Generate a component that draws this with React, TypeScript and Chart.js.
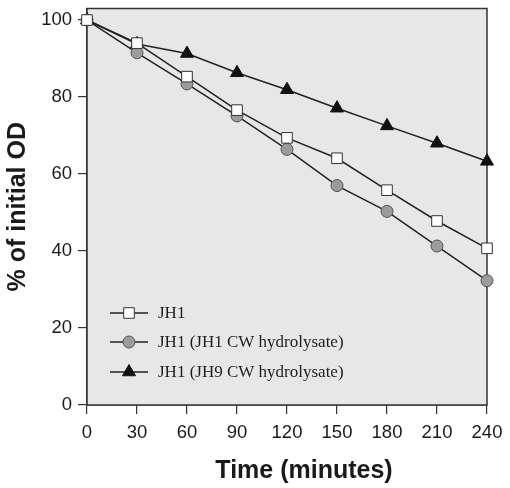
import React, { useEffect, useRef } from "react";
import { Chart, registerables } from "chart.js";
import { drawPoint } from "chart.js/helpers";

Chart.register(...registerables);

const times = [0, 30, 60, 90, 120, 150, 180, 210, 240];
const jh1 = [100, 94.0, 85.3, 76.6, 69.4, 64.1, 55.8, 47.8, 40.7];
const jh1Cw = [100, 91.5, 83.4, 75.1, 66.4, 57.0, 50.3, 41.3, 32.3];
const jh9Cw = [100, 93.8, 91.3, 86.3, 81.9, 77.1, 72.5, 68.0, 63.3];
const xTicks = [0, 30, 60, 90, 120, 150, 180, 210, 240];
const yTicks = [0, 20, 40, 60, 80, 100];
const seriesNames = ["JH1", "JH1 (JH1 CW hydrolysate)", "JH1 (JH9 CW hydrolysate)"];
const xTitle = "Time (minutes)";
const yTitle = "% of initial OD";

const LINE = "#222222";

const plotBg = {
  id: "plotBg",
  beforeDatasetsDraw(chart: any) {
    const { ctx, chartArea: a } = chart;
    ctx.save();
    ctx.fillStyle = "#e7e7e7";
    ctx.fillRect(a.left, a.top, a.right - a.left, a.bottom - a.top);
    ctx.strokeStyle = "#333333";
    ctx.lineWidth = 1.5;
    ctx.strokeRect(a.left, a.top, a.right - a.left, a.bottom - a.top);
    ctx.restore();
  },
};

const customText = {
  id: "customText",
  afterDraw(chart: any) {
    const { ctx } = chart;
    ctx.save();
    ctx.fillStyle = "#1a1a1a";
    ctx.font = "bold 25px 'Liberation Sans', Arial, sans-serif";
    ctx.textAlign = "center";
    ctx.textBaseline = "middle";
    ctx.fillText(xTitle, 304, 471);
    const rows = [313, 342, 372];
    chart.data.datasets.forEach((ds: any, i: number) => {
      const y = rows[i];
      ctx.strokeStyle = LINE;
      ctx.lineWidth = 1.5;
      ctx.beginPath();
      ctx.moveTo(110, y);
      ctx.lineTo(148, y);
      ctx.stroke();
      ctx.fillStyle = ds.pointBackgroundColor;
      ctx.strokeStyle = ds.pointBorderColor;
      ctx.lineWidth = ds.pointBorderWidth;
      drawPoint(ctx, { pointStyle: ds.pointStyle, rotation: 0, radius: ds.pointRadius, borderWidth: ds.pointBorderWidth }, 129, y);
      ctx.fillStyle = "#1e1e1e";
      ctx.font = "17px 'Liberation Serif', 'Times New Roman', serif";
      ctx.textAlign = "left";
      ctx.textBaseline = "middle";
      ctx.fillText(ds.label, 158, y + 1);
    });
    ctx.restore();
  },
};

export default function App() {
  const ref = useRef<HTMLCanvasElement>(null);
  useEffect(() => {
    if (!ref.current) return;
    const mk = (vals: number[]) => times.map((t, i) => ({ x: t, y: vals[i] }));
    const chart = new Chart(ref.current, {
      type: "line",
      data: {
        datasets: [
          {
            label: seriesNames[0],
            data: mk(jh1),
            borderColor: LINE,
            borderWidth: 1.5,
            pointStyle: "rect",
            pointRadius: 7.5,
            pointBackgroundColor: "#ffffff",
            pointBorderColor: "#333333",
            pointBorderWidth: 1,
            clip: false,
          },
          {
            label: seriesNames[1],
            data: mk(jh1Cw),
            borderColor: LINE,
            borderWidth: 1.5,
            pointStyle: "circle",
            pointRadius: 6,
            pointBackgroundColor: "#9c9c9c",
            pointBorderColor: "#555555",
            pointBorderWidth: 1,
            clip: false,
          },
          {
            label: seriesNames[2],
            data: mk(jh9Cw),
            borderColor: LINE,
            borderWidth: 1.5,
            pointStyle: "triangle",
            pointRadius: 7.5,
            pointBackgroundColor: "#111111",
            pointBorderColor: "#111111",
            pointBorderWidth: 1,
            clip: false,
          },
        ],
      } as any,
      options: {
        animation: false,
        responsive: false,
        maintainAspectRatio: false,
        layout: { padding: { top: 4, right: 23, left: 0, bottom: 0 } },
        plugins: { legend: { display: false }, tooltip: { enabled: false } },
        elements: { line: { tension: 0 } },
        scales: {
          x: {
            type: "linear",
            min: 0,
            max: 240,
            afterBuildTicks: (s: any) => {
              s.ticks = xTicks.map((v) => ({ value: v }));
            },
            afterFit: (s: any) => {
              s.height = 83;
              s.paddingLeft = 0;
              s.paddingRight = 0;
            },
            grid: { drawOnChartArea: false, drawTicks: true, tickLength: 9, color: "#333333", lineWidth: 1.2 },
            border: { display: true, color: "#333333", width: 1.5 },
            ticks: {
              color: "#1a1a1a",
              padding: 8,
              maxRotation: 0,
              autoSkip: false,
              font: { family: "'Liberation Sans', Arial, sans-serif", size: 18.5 },
            },
            title: { display: false },
          },
          y: {
            type: "linear",
            min: 0,
            max: 103,
            afterBuildTicks: (s: any) => {
              s.ticks = yTicks.map((v) => ({ value: v }));
            },
            afterFit: (s: any) => {
              s.width = 87;
              s.paddingTop = 0;
              s.paddingBottom = 0;
            },
            grid: { drawOnChartArea: false, drawTicks: true, tickLength: 9, color: "#333333", lineWidth: 1.2 },
            border: { display: true, color: "#333333", width: 1.5 },
            ticks: {
              color: "#1a1a1a",
              padding: 6,
              autoSkip: false,
              font: { family: "'Liberation Sans', Arial, sans-serif", size: 18.5 },
            },
            title: {
              display: true,
              text: yTitle,
              color: "#1a1a1a",
              padding: { top: 3, bottom: 0 },
              font: { family: "'Liberation Sans', Arial, sans-serif", size: 25, weight: "bold" },
            },
          },
        },
      } as any,
      plugins: [plotBg, customText],
    });
    return () => chart.destroy();
  }, []);
  return (
    <div style={{ position: "fixed", left: 0, top: 0, width: 510, height: 488, background: "#ffffff" }}>
      <canvas ref={ref} width={510} height={488} style={{ width: 510, height: 488, display: "block" }} />
    </div>
  );
}
